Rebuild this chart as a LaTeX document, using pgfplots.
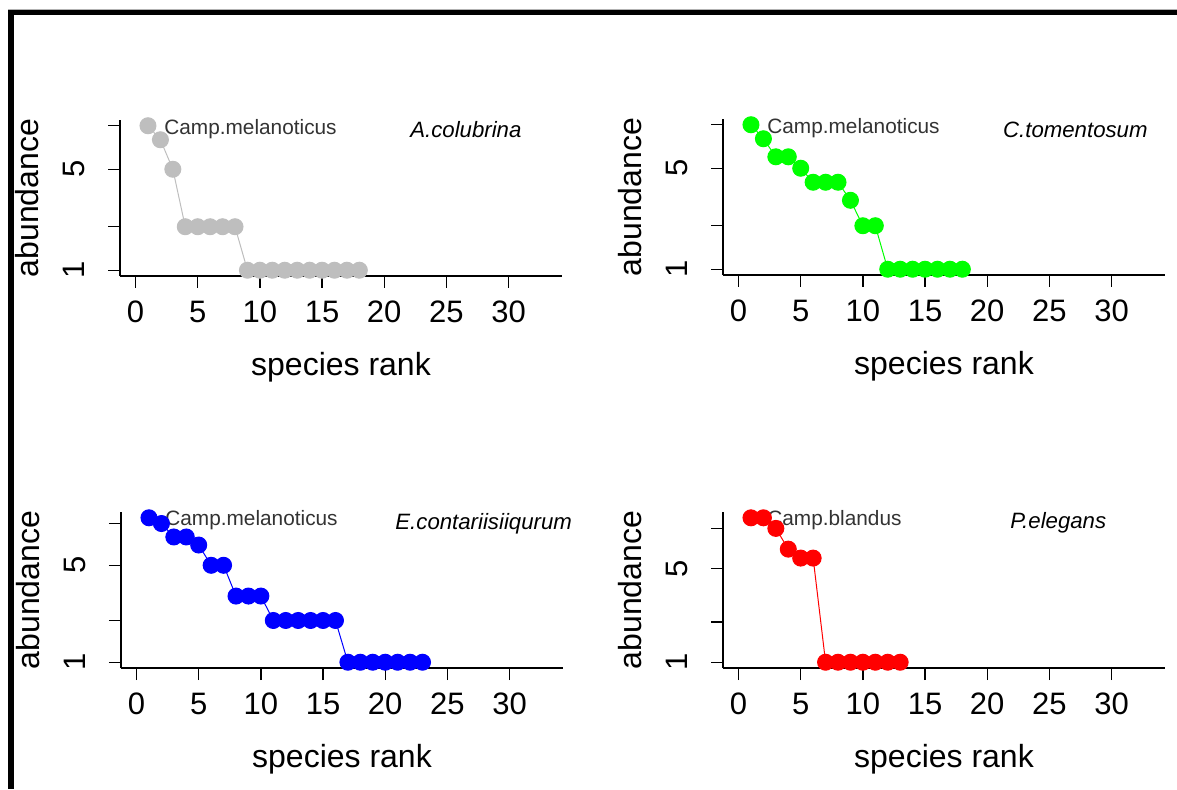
\documentclass[border=0pt]{standalone}
\usepackage{fontspec}
\setmainfont{Liberation Sans}
\usepackage{pgfplots}
\pgfplotsset{compat=1.18}

\definecolor{rgray}{HTML}{BEBEBE}
\definecolor{rgreen}{HTML}{00FF00}
\definecolor{rblue}{HTML}{0000FF}
\definecolor{rred}{HTML}{FF0000}
\definecolor{camptext}{HTML}{333333}

\pgfplotsset{
  rankpanel/.style={
    scale only axis, width=221pt, height=78pt, anchor=south west,
    xmin=-1.25, xmax=34.3,
    axis x line*=bottom, axis y line*=left,
    axis line style={line width=0.7pt, -},
    xtick={0,5,...,30}, ytick={1,2,5,10}, yticklabels={1,{},5,{}},
    yminorticks=false, xminorticks=false,
    tick align=outside, major tick length=6pt,
    tick style={line width=0.7pt, black},
    xticklabel style={font=\fontsize{15.5}{18}\selectfont},
    yticklabel style={font=\fontsize{15.5}{18}\selectfont, rotate=90, anchor=south},
    xticklabel shift=3pt, yticklabel shift=8pt,
    /pgf/number format/assume math mode=true,
    clip=false,
  },
}
\tikzset{
  campl/.style={anchor=west, inner sep=1pt, fill=white, fill opacity=0.6, text opacity=1,
    text=camptext, font=\fontsize{10.4}{12}\selectfont},
  specl/.style={anchor=west, inner sep=0pt, font=\fontsize{11.1}{13}\selectfont\itshape},
}

\newcommand{\axlabels}{%
  \node[font=\fontsize{16}{18}\selectfont] at (rel axis cs:0.5,0) [yshift=-45.5pt] {species rank};
  \node[font=\fontsize{16}{18}\selectfont, xshift=-46.5pt, rotate=90] at (rel axis cs:0,0.5) {abundance};
}

\begin{document}
\begin{tikzpicture}
\useasboundingbox (0,0) rectangle (588.5pt,394.5pt);
\fill[gray!60] (4pt,389.5pt) rectangle (588.5pt,390pt);
\fill[black] (4pt,386.85pt) rectangle (588.5pt,389.5pt);
\fill[black] (4pt,0pt) rectangle (7pt,389.5pt);

% A.colubrina
\begin{axis}[ymode=log, rankpanel, at={(60pt,256.5pt)}, ymin=0.912, ymax=10.96]
\node[campl] at (rel axis cs:0.095,0.942) {Camp.melanoticus};
\addplot[rgray, line width=0.5pt, mark=*, mark size=4pt, mark options={fill=rgray, draw=rgray}] coordinates {
(1,10) (2,8) (3,5) (4,2) (5,2) (6,2) (7,2) (8,2)
(9,1) (10,1) (11,1) (12,1) (13,1) (14,1) (15,1) (16,1) (17,1) (18,1)};
\node[specl] at (rel axis cs:0.656,0.936) {A.colubrina};
\axlabels
\end{axis}

% C.tomentosum
\begin{axis}[ymode=log, rankpanel, at={(361.5pt,257pt)}, ymin=0.912, ymax=10.96]
\node[campl] at (rel axis cs:0.095,0.942) {Camp.melanoticus};
\addplot[rgreen, line width=0.5pt, mark=*, mark size=4pt, mark options={fill=rgreen, draw=rgreen}] coordinates {
(1,10) (2,8) (3,6) (4,6) (5,5) (6,4) (7,4) (8,4) (9,3) (10,2) (11,2)
(12,1) (13,1) (14,1) (15,1) (16,1) (17,1) (18,1)};
\node[specl] at (rel axis cs:0.633,0.929) {C.tomentosum};
\axlabels
\end{axis}

% E.contariisiiqurum
\begin{axis}[ymode=log, rankpanel, at={(60.5pt,60.5pt)}, ymin=0.9086, ymax=12.11]
\node[campl] at (rel axis cs:0.095,0.949) {Camp.melanoticus};
\addplot[rblue, line width=0.5pt, mark=*, mark size=4pt, mark options={fill=rblue, draw=rblue}] coordinates {
(1,11) (2,10) (3,8) (4,8) (5,7) (6,5) (7,5) (8,3) (9,3) (10,3)
(11,2) (12,2) (13,2) (14,2) (15,2) (16,2)
(17,1) (18,1) (19,1) (20,1) (21,1) (22,1) (23,1)};
\node[specl] at (rel axis cs:0.620,0.923) {E.contariisiiqurum};
\axlabels
\end{axis}

% P.elegans
\begin{axis}[ymode=log, rankpanel, at={(361.5pt,60.5pt)}, ymin=0.9054, ymax=13.26]
\node[campl] at (rel axis cs:0.095,0.949) {Camp.blandus};
\addplot[rred, line width=0.5pt, mark=*, mark size=4pt, mark options={fill=rred, draw=rred}] coordinates {
(1,12) (2,12) (3,10) (4,7) (5,6) (6,6)
(7,1) (8,1) (9,1) (10,1) (11,1) (12,1) (13,1)};
\node[specl] at (rel axis cs:0.649,0.929) {P.elegans};
\axlabels
\end{axis}
\end{tikzpicture}
\end{document}
